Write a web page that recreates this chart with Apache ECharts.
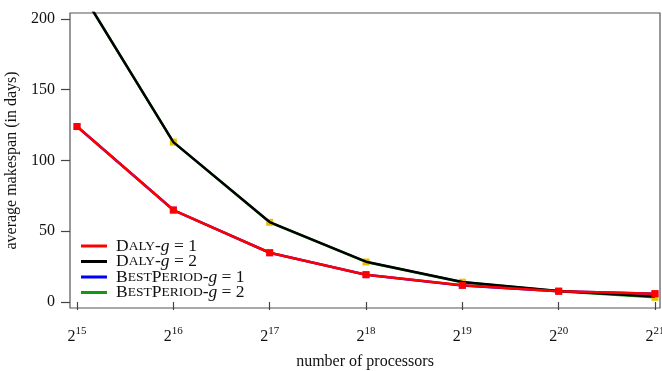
<!DOCTYPE html>
<html><head><meta charset="utf-8">
<script src="https://cdn.jsdelivr.net/npm/echarts@6/dist/echarts.min.js"></script>
<style>html,body{margin:0;padding:0;background:#fff}#c{width:662px;height:371px}</style>
</head><body><div id="c"></div>
<script>
// x positions are log2 of the number of processors
const exponents = [15, 16, 17, 18, 19, 20, 21];
const yTicks = [0, 50, 100, 150, 200];
const dalyG1 = [124, 65, 34.8, 19.3, 11.8, 7.6, 5.9];
const dalyG2 = [224, 113, 56.5, 28.5, 14.1, 7.7, 3.8];
const bestG1 = [124, 65, 34.8, 19.3, 11.7, 7.6, 5.8];
const bestG2 = [224, 113, 56.3, 28.3, 14.0, 7.6, 3.3];
const seriesNames = ['Daly-g = 1', 'Daly-g = 2', 'BestPeriod-g = 1', 'BestPeriod-g = 2'];
const lineColors = ['#ff0000', '#000000', '#0000ff', '#109a10'];

const font = 'Liberation Serif';
const pair = arr => exponents.map((e, i) => [e, arr[i]]);
const richLegend = {
  cap: {fontFamily: font, fontSize: 17.5, color: '#111', lineHeight: 16},
  sc: {fontFamily: font, fontSize: 13.5, color: '#111', lineHeight: 16},
  it: {fontFamily: font, fontSize: 17.5, fontStyle: 'italic', color: '#111', lineHeight: 16},
  n: {fontFamily: font, fontSize: 17.5, color: '#111', lineHeight: 16}
};
const legendText = {
  'Daly-g = 1': '{cap|D}{sc|ALY}{n|-}{it|g}{n| = 1}',
  'Daly-g = 2': '{cap|D}{sc|ALY}{n|-}{it|g}{n| = 2}',
  'BestPeriod-g = 1': '{cap|B}{sc|EST}{cap|P}{sc|ERIOD}{n|-}{it|g}{n| = 1}',
  'BestPeriod-g = 2': '{cap|B}{sc|EST}{cap|P}{sc|ERIOD}{n|-}{it|g}{n| = 2}'
};

const chart = echarts.init(document.getElementById('c'), null, {renderer: 'canvas'});
chart.setOption({
  animation: false,
  backgroundColor: '#fff',
  grid: {left: 70, right: 2, top: 13, bottom: 63, show: true, borderColor: '#555', borderWidth: 1.2,
         containLabel: false, outerBoundsMode: 'none'},
  legend: {
    orient: 'vertical', left: 81, top: 237, itemGap: -2.5, padding: 0,
    icon: 'rect', itemWidth: 26, itemHeight: 3,
    data: seriesNames.map((n, i) => ({name: n, itemStyle: {color: lineColors[i]}})),
    formatter: n => legendText[n],
    textStyle: {rich: richLegend, padding: [0, 0, 0, 4], lineHeight: 16}
  },
  xAxis: {
    type: 'value', min: 14.927, max: 21.052,
    name: 'number of processors', nameLocation: 'middle', nameGap: 46,
    nameTextStyle: {fontFamily: font, fontSize: 16, color: '#111'},
    axisLine: {show: false},
    axisTick: {show: true, length: 8, lineStyle: {color: '#444', width: 1.2}, customValues: exponents},
    axisLabel: {
      customValues: exponents, margin: 18,
      formatter: v => '{b|2}{s|' + Math.round(v) + '}',
      rich: {
        b: {fontFamily: font, fontSize: 16, color: '#111', lineHeight: 19, verticalAlign: 'bottom'},
        s: {fontFamily: font, fontSize: 11, color: '#111', lineHeight: 11, verticalAlign: 'top'}
      }
    },
    splitLine: {show: false}
  },
  yAxis: {
    type: 'value', min: -4.24, max: 204.24,
    name: 'average makespan (in days)', nameLocation: 'middle', nameGap: 44, nameRotate: 90,
    nameTextStyle: {fontFamily: font, fontSize: 16, color: '#111'},
    axisLine: {show: false},
    axisTick: {show: true, length: 9, lineStyle: {color: '#444', width: 1.2}, customValues: yTicks},
    axisLabel: {customValues: yTicks, margin: 15, fontFamily: font, fontSize: 16, color: '#111'},
    splitLine: {show: false}
  },
  series: [
    {name: seriesNames[3], type: 'line', data: pair(bestG2), z: 2, clip: true,
     color: lineColors[3], lineStyle: {width: 2.5, color: lineColors[3]},
     symbol: 'rect', symbolSize: 7, itemStyle: {color: '#e2c400'}},
    {name: seriesNames[2], type: 'line', data: pair(bestG1), z: 2, clip: true,
     color: lineColors[2], lineStyle: {width: 2.5, color: lineColors[2]},
     symbol: 'rect', symbolSize: 7, itemStyle: {color: '#b050c8'}},
    {name: seriesNames[1], type: 'line', data: pair(dalyG2), z: 3, clip: true,
     color: lineColors[1], lineStyle: {width: 2.5, color: lineColors[1]},
     symbol: 'none'},
    {name: seriesNames[0], type: 'line', data: pair(dalyG1), z: 4, clip: true,
     color: lineColors[0], lineStyle: {width: 2.5, color: lineColors[0]},
     symbol: 'rect', symbolSize: 7, itemStyle: {color: lineColors[0]}}
  ]
});
</script></body></html>
